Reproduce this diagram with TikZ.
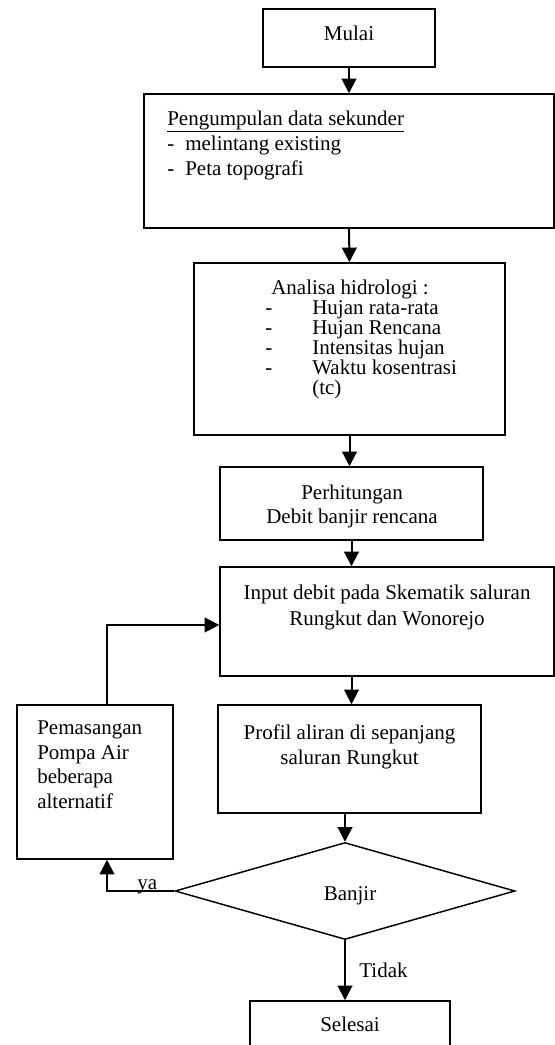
\documentclass[tikz,border=0pt]{standalone}
\usepackage{fontspec}
\setmainfont{Liberation Serif}
\usetikzlibrary{arrows.meta,shapes.geometric}
\begin{document}
\begin{tikzpicture}[x=0.75pt,y=-0.75pt,
  box/.style={draw,line width=1.1pt,inner sep=0pt},
  txt/.style={inner sep=0pt,font=\fontsize{15.75}{18.75}\selectfont},
  arr/.style={line width=1.5pt,-{Triangle[width=11pt,length=11pt]}}]
\clip (0,0) rectangle (555,1045);
\useasboundingbox (0,0) rectangle (555,1045);
% boxes
\node[box,minimum width=129pt,minimum height=43.5pt] (mulai) at (349,38) {};
\node[box,minimum width=307.5pt,minimum height=100.5pt] (sekunder) at (349,161) {};
\node[box,minimum width=233.25pt,minimum height=129pt] (hidro) at (349.5,349) {};
\node[box,minimum width=197.25pt,minimum height=54.75pt] (debit) at (351.5,503.5) {};
\node[box,minimum width=250.5pt,minimum height=81.75pt] (input) at (387,621.5) {};
\node[box,minimum width=197.25pt,minimum height=81pt] (profil) at (349.5,759) {};
\node[box,minimum width=117pt,minimum height=115.5pt] (pompa) at (95,782) {};
\node[draw,line width=1.1pt,shape=diamond,aspect=3.5,inner sep=0pt,
      minimum width=255pt,minimum height=72.75pt] (banjir) at (345,891) {};
\node[box,minimum width=150pt,minimum height=45pt] (selesai) at (350,1031) {};
% texts
\node[txt] (tmulai) at (349,33) {Mulai};
\node[txt,anchor=north west,align=left] (tsekunder) at (167,110.5)
  {\underline{Pengumpulan data sekunder}\\
   \makebox[13.5pt][l]{-}melintang existing\\
   \makebox[13.5pt][l]{-}Peta topografi};
\node[txt,anchor=north west,align=left,font=\fontsize{15.75}{15}\selectfont] (thidro) at (265,279.5)
  {\hspace*{4.5pt}Analisa hidrologi :\\
   \makebox[35.25pt][l]{-}Hujan rata-rata\\
   \makebox[35.25pt][l]{-}Hujan Rencana\\
   \makebox[35.25pt][l]{-}Intensitas hujan\\
   \makebox[35.25pt][l]{-}Waktu kosentrasi\\
   \hspace*{35.25pt}(tc)};
\node[txt,anchor=north,align=center,font=\fontsize{15.75}{18}\selectfont] (tdebit) at (352,484.5)
  {Perhitungan\\Debit banjir rencana};
\node[txt,anchor=north,align=center,font=\fontsize{15.75}{19.5}\selectfont] (tinput) at (387,584.5)
  {Input debit pada Skematik saluran\\Rungkut dan Wonorejo};
\node[txt,anchor=north,align=center] (tprofil) at (349.5,724.5)
  {Profil aliran di sepanjang\\saluran Rungkut};
\node[txt,anchor=north west,align=left,font=\fontsize{15.75}{18.4}\selectfont] (tpompa) at (37,720.5)
  {Pemasangan\\Pompa Air\\beberapa\\alternatif};
\node[txt] (tbanjir) at (350,896) {Banjir};
\node[txt] (tselesai) at (350,1024) {Selesai};
% connectors
\draw[arr] (mulai.south) -- (sekunder.north);
\draw[arr] (sekunder.south) -- (hidro.north);
\draw[arr] (hidro.south) -- (hidro.south |- debit.north);
\draw[arr] (debit.south) -- (debit.south |- input.north);
\draw[arr] (debit.south |- input.south) -- (debit.south |- profil.north);
\draw[arr] (banjir.north |- profil.south) -- (banjir.north);
\draw[arr] (banjir.south) -- node[txt,right=10pt] (ttidak) {Tidak} (banjir.south |- selesai.north);
\draw[arr] (banjir.west) -| node[txt,pos=0.2,anchor=base,yshift=1.5pt] (tya) {ya} ([xshift=9pt]pompa.south);
\draw[arr] ([xshift=9pt]pompa.north) |- ([yshift=-2.6pt]input.west);
\end{tikzpicture}
\end{document}
